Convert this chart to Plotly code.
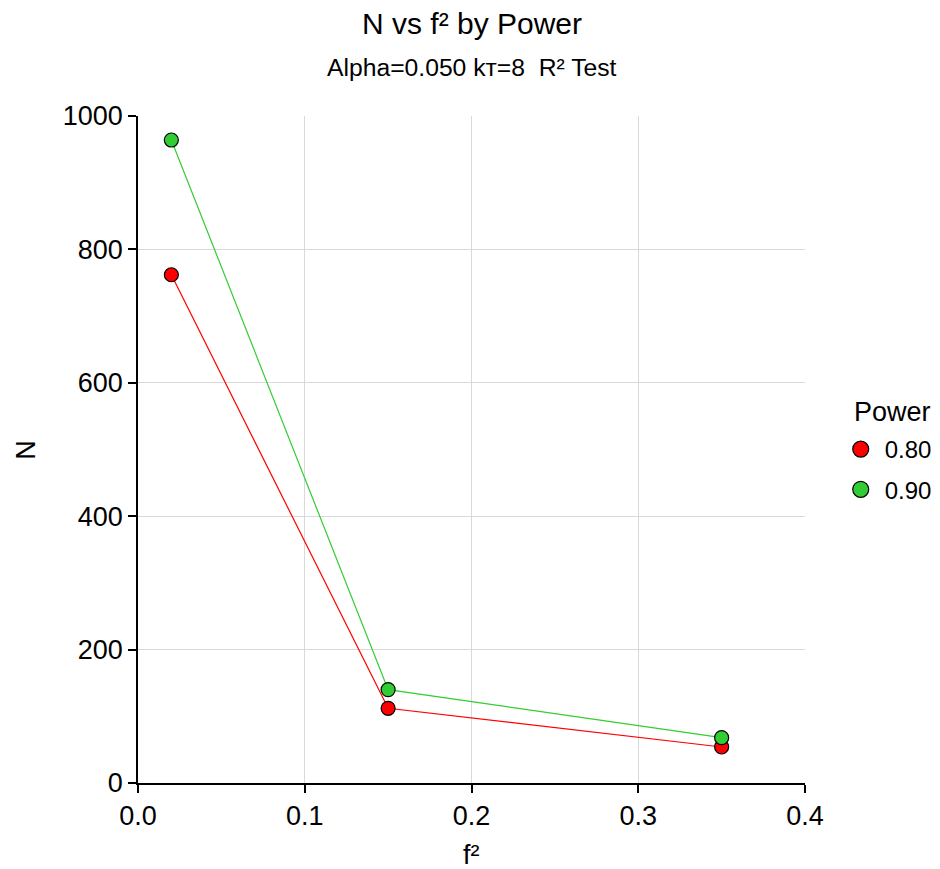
import plotly.graph_objects as go

f2 = [0.02, 0.15, 0.35]
power_labels = ["0.80", "0.90"]
n_080 = [762, 112, 54]
n_090 = [964, 140, 68]
colors = ["#ff0000", "#32cd32"]
x_ticks = [0.0, 0.1, 0.2, 0.3, 0.4]
y_ticks = [0, 200, 400, 600, 800, 1000]

font = "Liberation Sans, Arial, sans-serif"

fig = go.Figure()
for lab, ys, c in zip(power_labels, [n_080, n_090], colors):
    fig.add_trace(go.Scatter(
        x=f2, y=ys, mode="lines+markers", name=lab, showlegend=False,
        line=dict(color=c, width=1.2),
        marker=dict(size=14, color=c, line=dict(color="black", width=1.2)),
    ))
# legend entries (markers only)
for lab, c in zip(power_labels, colors):
    fig.add_trace(go.Scatter(
        x=[None], y=[None], mode="markers", name=lab, legendgroup=lab,
        marker=dict(size=16, color=c, line=dict(color="black", width=1.2)),
    ))

fig.update_layout(
    width=940, height=869,
    margin=dict(l=130, r=142, t=108, b=94),
    paper_bgcolor="white", plot_bgcolor="white",
    font=dict(family=font, color="black", size=24),
    showlegend=True,
    legend=dict(
        x=1.046, y=0.47, xanchor="left", yanchor="middle",
        font=dict(size=24, family=font), itemwidth=38,
        tracegroupgap=6,
    ),
    annotations=[
        dict(text="N vs f² by Power", x=0.5, y=1.139, xref="paper", yref="paper",
             xanchor="center", yanchor="middle", showarrow=False,
             font=dict(size=30, family=font)),
        dict(text="Alpha=0.050 kт=8 \u00a0R² Test", x=0.5, y=1.072, xref="paper", yref="paper",
             xanchor="center", yanchor="middle", showarrow=False,
             font=dict(size=24.7, family=font)),
        dict(text="Power", x=1.0704, y=0.556, xref="paper", yref="paper",
             xanchor="left", yanchor="middle", showarrow=False,
             font=dict(size=27, family=font)),
        dict(text="f²", x=0.5, y=-0.108, xref="paper", yref="paper",
             xanchor="center", yanchor="middle", showarrow=False,
             font=dict(size=27, family=font)),
        dict(text="N", x=-0.169, y=0.5, xref="paper", yref="paper",
             xanchor="center", yanchor="middle", showarrow=False, textangle=-90,
             font=dict(size=27, family=font)),
    ],
)
fig.update_xaxes(
    range=[0, 0.4], tickvals=x_ticks, ticktext=[f"{v:.1f}" for v in x_ticks],
    showline=True, linecolor="black", linewidth=1.5,
    ticks="outside", ticklen=8, tickcolor="black", tickwidth=1.5,
    tickfont=dict(size=27, family=font),
    showgrid=True, gridcolor="#d9d9d9", gridwidth=1, zeroline=False,
    automargin=False,
)
fig.update_yaxes(
    range=[0, 1000], tickvals=y_ticks,
    showline=True, linecolor="black", linewidth=1.5,
    ticks="outside", ticklen=8, tickcolor="black", tickwidth=1.5,
    tickfont=dict(size=27, family=font),
    showgrid=True, gridcolor="#d9d9d9", gridwidth=1, zeroline=False,
    automargin=False,
)
fig.write_html("out.html")
